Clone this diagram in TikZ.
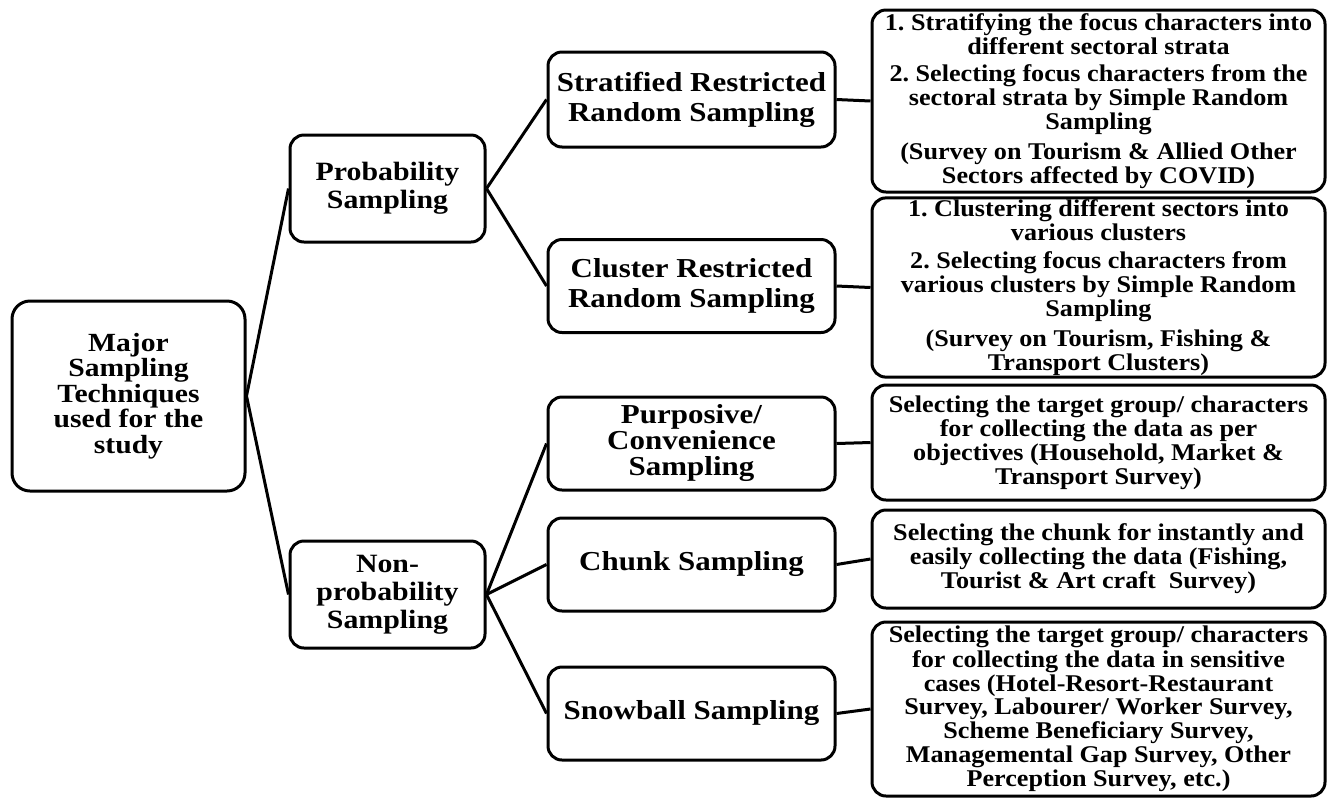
\documentclass[tikz,border=0pt]{standalone}
\usepackage{fontspec}
\setmainfont{Liberation Serif}
\newfontfamily\widefont[FakeStretch=1.13]{Liberation Serif}
\newfontfamily\notefont[FakeStretch=1.09]{Liberation Serif}
\frenchspacing

\begin{document}
\begin{tikzpicture}[x=0.5pt, y=-0.5pt,
  box/.style = {draw, rounded corners=7pt, line width=1.5pt, align=center, inner sep=1pt},
  rootbox/.style = {box, rounded corners=9pt, minimum width=116.5pt, minimum height=95pt,
    font=\widefont\fontsize{13.1}{12.8}\selectfont\bfseries},
  kindbox/.style = {box, minimum width=97.5pt, minimum height=53.5pt,
    font=\widefont\fontsize{13.2}{14}\selectfont\bfseries},
  methodbox/.style = {box, minimum width=143.5pt, minimum height=46.5pt,
    font=\widefont\fontsize{13.7}{15}\selectfont\bfseries},
  notebox/.style = {box, minimum width=226.5pt,
    font=\notefont\fontsize{12}{10.8}\selectfont\bfseries},
  link/.style = {line width=1.5pt}]
  \useasboundingbox (0,0) rectangle (1332,799);

  \node[rootbox] (root) at (128.5,396) {Major\\Sampling\\Techniques\\used for the\\study};

  \node[kindbox] (prob)    at (387.5,188.5) {Probability\\Sampling};
  \node[kindbox] (nonprob) at (387.5,594.5) {Non-\\probability\\Sampling};

  \node[methodbox, minimum height=47.5pt] (strat) at (691.5,99.5) {Stratified Restricted\\Random Sampling};
  \node[methodbox] (clust) at (691.5,286) {Cluster Restricted\\Random Sampling};
  \node[methodbox, font=\widefont\fontsize{13.7}{13}\selectfont\bfseries] (purp) at (691.5,443.5)
    {Purposive/\\Convenience\\Sampling};
  \node[methodbox] (chunk) at (691.5,564.5) {Chunk Sampling};
  \node[methodbox] (snow)  at (691.5,713.5) {Snowball Sampling};

  \node[notebox, minimum height=91pt] (stratnote) at (1098.5,101)
    {1. Stratifying the focus characters into\\different sectoral strata\\[3pt]
     2. Selecting focus characters from the\\sectoral strata by Simple Random\\Sampling\\[3pt]
     (Survey on Tourism \& Allied Other\\Sectors affected by COVID)};
  \node[notebox, minimum height=87.5pt] (clustnote) at (1098.5,287.5)
    {1. Clustering different sectors into\\various clusters\\[3pt]
     2. Selecting focus characters from\\various clusters by Simple Random\\Sampling\\[3pt]
     (Survey on Tourism, Fishing \&\\Transport Clusters)};
  \node[notebox, minimum height=57.5pt] (purpnote) at (1098.5,442.5)
    {Selecting the target group/ characters\\for collecting the data as per\\objectives (Household, Market \&\\Transport Survey)};
  \node[notebox, minimum height=49pt] (chunknote) at (1098.5,559)
    {Selecting the chunk for instantly and\\easily collecting the data (Fishing,\\Tourist \& Art craft~ Survey)};
  \node[notebox, minimum height=87pt] (snownote) at (1098.5,709)
    {Selecting the target group/ characters\\for collecting the data in sensitive\\cases (Hotel-Resort-Restaurant\\Survey, Labourer/ Worker Survey,\\Scheme Beneficiary Survey,\\Managemental Gap Survey, Other\\Perception Survey, etc.)};

  \draw[link] (root.east) -- (prob.west);
  \draw[link] (root.east) -- (nonprob.west);

  \draw[link] (prob.east) -- (strat.west);
  \draw[link] (prob.east) -- (clust.west);
  \draw[link] (nonprob.east) -- (purp.west);
  \draw[link] (nonprob.east) -- (chunk.west);
  \draw[link] (nonprob.east) -- (snow.west);

  \draw[link] (strat.east) -- (stratnote.west);
  \draw[link] (clust.east) -- (clustnote.west);
  \draw[link] (purp.east) -- (purpnote.west);
  \draw[link] (chunk.east) -- (chunknote.west);
  \draw[link] (snow.east) -- (snownote.west);
\end{tikzpicture}
\end{document}
